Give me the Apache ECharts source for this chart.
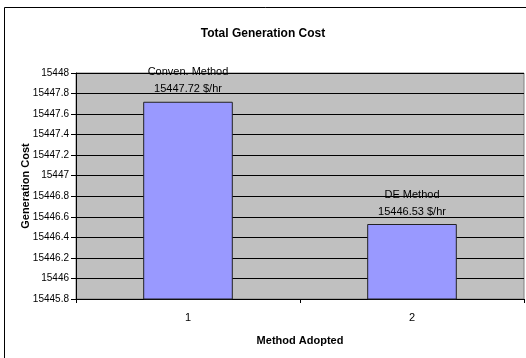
<!DOCTYPE html>
<html>
<head>
<meta charset="utf-8">
<style>
  html, body { margin: 0; padding: 0; background: #fff; }
  #chart { width: 526px; height: 358px; }
</style>
<script src="https://cdn.jsdelivr.net/npm/echarts@6/dist/echarts.min.js"></script>
</head>
<body>
<div id="chart"></div>
<script>
// Chart content
const chartTitle = 'Total Generation Cost';
const xAxisName = 'Method Adopted';
const yAxisName = 'Generation Cost';
const categories = ['1', '2'];
const methodNames = ['Conven. Method', 'DE Method'];
const costValues = [15447.72, 15446.53];
const yMin = 15445.8;
const yMax = 15448;
const yStep = 0.2;

const FONT = '"Liberation Sans", Arial, sans-serif';

const chart = echarts.init(document.getElementById('chart'), null, { renderer: 'canvas' });

chart.setOption({
  animation: false,
  backgroundColor: '#ffffff',
  textStyle: { fontFamily: FONT },
  title: {
    text: chartTitle,
    left: 'center',
    top: 23,
    textStyle: { fontFamily: FONT, fontSize: 12, fontWeight: 'bold', color: '#000' }
  },
  graphic: [{
    type: 'rect',
    shape: { x: 4.5, y: 7.5, width: 560, height: 400 },
    style: { fill: 'none', stroke: '#000', lineWidth: 1 },
    silent: true,
    z: -1
  }],
  grid: {
    left: 76, right: 2, top: 73, bottom: 59,
    show: true,
    backgroundColor: '#C0C0C0',
    borderColor: '#808080',
    borderWidth: 1
  },
  xAxis: {
    type: 'category',
    data: categories,
    name: xAxisName,
    nameLocation: 'middle',
    nameGap: 36,
    nameMoveOverlap: false,
    nameTextStyle: { fontFamily: FONT, fontSize: 11, fontWeight: 'bold', color: '#000' },
    axisLine: { lineStyle: { color: '#000', width: 1 } },
    axisTick: { show: true, length: 4, lineStyle: { color: '#000' } },
    axisLabel: { fontFamily: FONT, fontSize: 11, color: '#000', margin: 13 },
    splitLine: { show: false }
  },
  yAxis: {
    type: 'value',
    min: yMin,
    max: yMax,
    interval: yStep,
    name: yAxisName,
    nameLocation: 'middle',
    nameGap: 45,
    nameMoveOverlap: false,
    nameTextStyle: { fontFamily: FONT, fontSize: 11, fontWeight: 'bold', color: '#000' },
    axisLine: { show: true, lineStyle: { color: '#000', width: 1 } },
    axisTick: { show: true, length: 5, lineStyle: { color: '#000' } },
    axisLabel: {
      fontFamily: FONT, fontSize: 10, color: '#000', margin: 7,
      formatter: v => String(Number(v.toFixed(1)))
    },
    splitLine: { show: true, lineStyle: { color: '#000', width: 1 } }
  },
  series: [{
    type: 'bar',
    data: costValues,
    barWidth: '40%',
    itemStyle: { color: '#9999FF', borderColor: '#222', borderWidth: 1 },
    label: {
      show: true,
      position: 'top',
      distance: 4,
      fontFamily: FONT,
      fontSize: 11,
      lineHeight: 17,
      color: '#000',
      formatter: p => methodNames[p.dataIndex] + '\n' + costValues[p.dataIndex].toFixed(2) + ' $/hr'
    }
  }]
});
</script>
</body>
</html>
